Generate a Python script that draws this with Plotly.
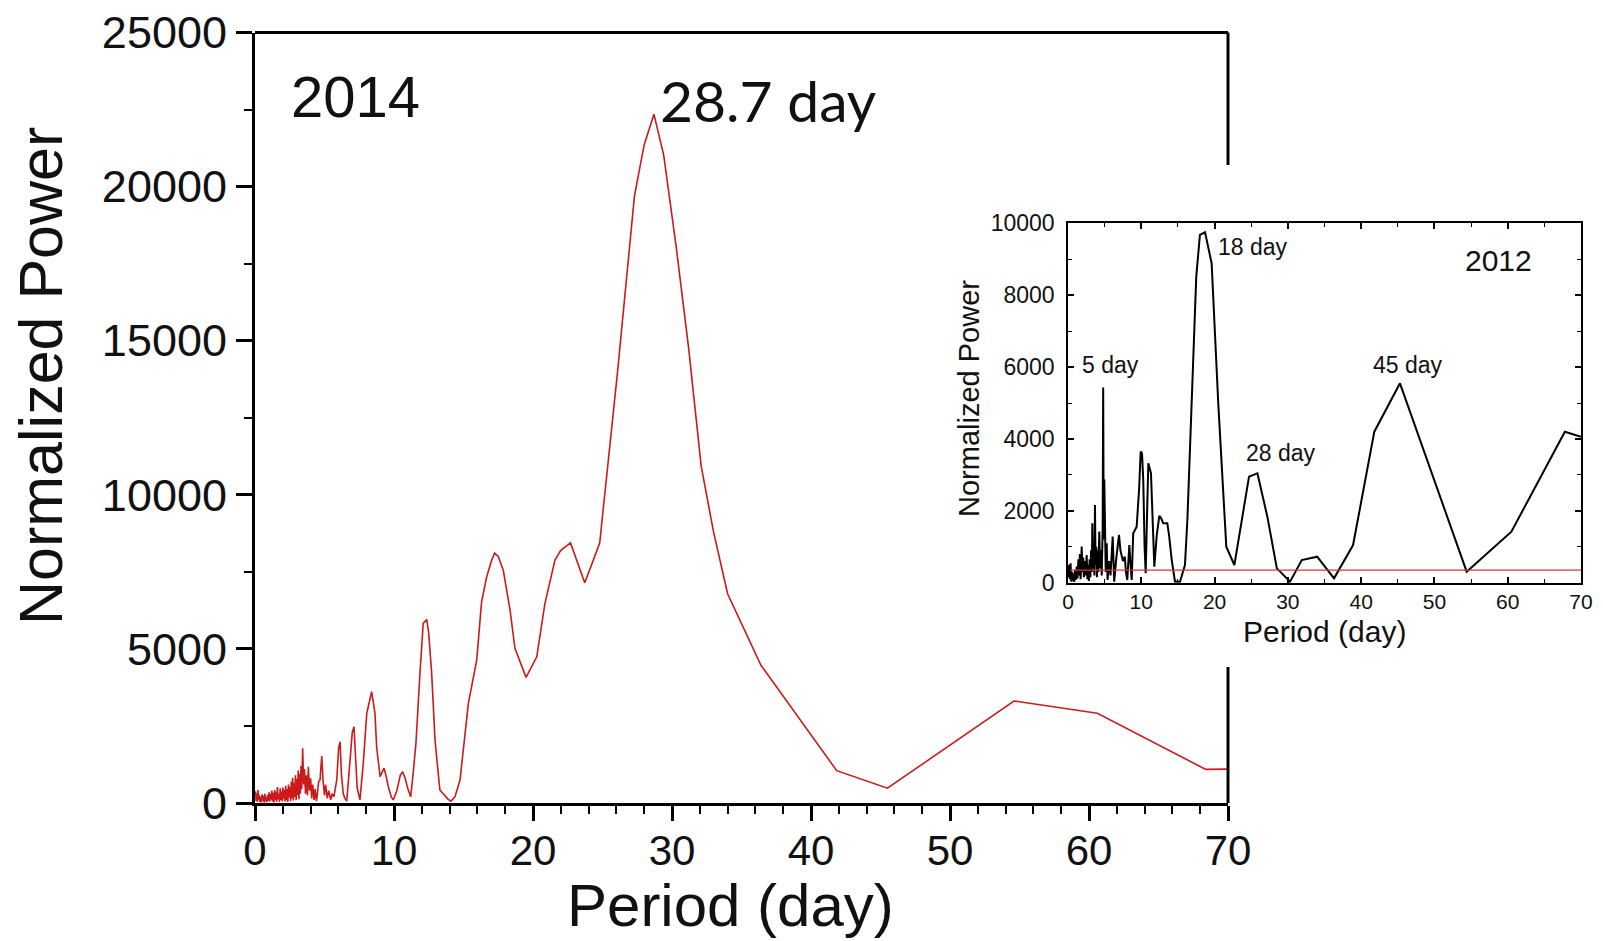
import plotly.graph_objects as go

W, H = 1603, 941

# ---------------- 2014 (main, red) ----------------
period_2014 = [0.04, 0.08, 0.12, 0.17, 0.22, 0.27, 0.31, 0.36, 0.41, 0.46, 0.51, 0.56, 0.61, 0.66,
               0.71, 0.76, 0.81, 0.86, 0.91, 0.96, 1.01, 1.06, 1.11, 1.16, 1.21, 1.26, 1.31, 1.36,
               1.41, 1.46, 1.51, 1.56, 1.61, 1.66, 1.71, 1.76, 1.81, 1.86, 1.91, 1.96, 2.01, 2.06,
               2.11, 2.16, 2.21, 2.26, 2.31, 2.36, 2.41, 2.46, 2.51, 2.56, 2.61, 2.66, 2.71, 2.76,
               2.81, 2.86, 2.91, 2.96, 3.01, 3.06, 3.11, 3.16, 3.21, 3.26, 3.31, 3.36, 3.43, 3.50,
               3.56, 3.63, 3.70, 3.77, 3.84, 3.92, 4.00, 4.08, 4.15, 4.25, 4.33, 4.42, 4.48, 4.58,
               4.68, 4.80, 4.90, 5.00, 5.08, 5.20, 5.30, 5.45, 5.55, 5.68, 5.88, 6.02, 6.12, 6.22,
               6.35, 6.47, 6.60, 6.83, 7.00, 7.12, 7.22, 7.35, 7.55, 7.79, 8.04, 8.25, 8.39, 8.50,
               8.63, 8.75, 9.00, 9.14, 9.28, 9.42, 9.59, 9.80, 9.95, 10.2, 10.45, 10.62, 10.8, 11.0,
               11.2, 11.39, 11.58, 11.87, 12.1, 12.35, 12.5, 12.71, 12.95, 13.3, 13.9, 14.1, 14.39,
               14.75, 15.35, 15.95, 16.3, 16.67, 17.03, 17.24, 17.5, 17.86, 18.35, 18.7, 19.5,
               20.27, 20.86, 21.58, 22.0, 22.7, 23.72, 24.34, 24.8, 26.1, 27.3, 28.0, 28.7, 29.4,
               30.3, 31.2, 32.1, 33.0, 34.0, 36.4, 41.85, 45.5, 54.6, 60.6, 68.4, 70.0]
power_2014 = [380, 60, 310, 40, 420, 90, 250, 30, 200, 20, 280, 70, 230, 10,
              300, 60, 180, 30, 260, 80, 350, 40, 290, 110, 400, 50, 330, 20,
              420, 90, 360, 40, 520, 120, 300, 30, 480, 100, 380, 60, 500, 140,
              420, 50, 560, 90, 450, 30, 600, 180, 520, 60, 700, 150, 820, 80,
              650, 200, 900, 100, 780, 250, 1050, 120, 950, 300, 1200, 450, 1774, 600,
              1100, 300, 900, 250, 1177, 400, 800, 150, 600, 100, 450, 60, 259, 700,
              746, 1524, 700, 250, 600, 150, 400, 100, 300, 204, 746, 1800, 1988, 900,
              300, 150, 60, 1287, 2300, 2475, 1600, 500, 100, 1287, 2909, 3400, 3610, 3300,
              2909, 1826, 854, 1000, 1125, 900, 530, 200, 100, 400, 900, 1015, 800, 450,
              200, 1015, 1946, 4216, 5828, 5957, 5500, 4206, 2043, 422, 120, 60, 204,
              746, 3233, 4637, 6528, 7339, 7880, 8110, 8000, 7556, 6259, 5017, 4076,
              4744, 6476, 7880, 8200, 8440, 7144, 7880, 8440, 14070, 19700, 21360, 22350, 21030,
              18050, 14750, 10930, 8770, 6790, 4470, 1048, 480, 3310, 2910, 1090, 1100]

# ---------------- 2012 (inset, black) ----------------
period_2012 = [0.05, 0.15, 0.25, 0.35, 0.45, 0.55, 0.65, 0.75, 0.85, 0.95, 1.05, 1.19, 1.30, 1.42,
               1.52, 1.62, 1.72, 1.87, 1.97, 2.07, 2.17, 2.30, 2.42, 2.55, 2.65, 2.75, 2.85, 2.95,
               3.05, 3.15, 3.25, 3.32, 3.42, 3.52, 3.60, 3.68, 3.76, 3.86, 3.95, 4.05, 4.15, 4.27,
               4.37, 4.50, 4.60, 4.73, 4.80, 4.87, 4.95, 5.05, 5.15, 5.28, 5.40, 5.60, 5.80, 6.10,
               6.30, 6.60, 6.96, 7.15, 7.32, 7.50, 7.75, 7.90, 8.09, 8.25, 8.37, 8.50, 8.69, 8.90,
               9.37, 9.70, 9.92, 10.1, 10.27, 10.45, 10.6, 10.8, 10.96, 11.32, 11.78, 12.1, 12.46,
               12.7, 13.0, 13.55, 13.8, 14.15, 14.6, 15.28, 15.96, 16.3, 16.87, 17.5, 18.0, 18.7,
               19.6, 20.5, 21.6, 22.7, 24.7, 25.85, 27.2, 28.5, 30.3, 31.9, 34.0, 36.3, 38.9, 41.8,
               45.3, 54.4, 60.5, 67.8, 70.0]
power_2012 = [150, 500, 100, 540, 30, 300, 60, 250, 20, 350, 80, 446, 120, 650,
              200, 800, 100, 1003, 300, 700, 150, 600, 200, 771, 100, 500, 50, 650,
              150, 900, 300, 1655, 400, 800, 200, 2165, 500, 1000, 150, 900, 300, 1422,
              400, 900, 200, 1500, 5430, 1200, 2870, 800, 300, 1097, 80, 600, 200, 1282,
              30, 700, 1329, 900, 725, 600, 725, 300, 75, 700, 1050, 600, 75, 1376,
              1560, 2600, 3649, 3600, 2860, 1000, 262, 2000, 3326, 3047, 446, 1300, 1858,
              1800, 1655, 1655, 1300, 632, 28, 28, 493, 1800, 5089, 8515, 9675, 9749,
              8887, 5000, 1000, 492, 2950, 3043, 1837, 399, 28, 631, 724, 121, 1048, 4202,
              5547, 306, 1419, 4202, 4063]

threshold_period = [0.3, 70.0]
threshold_power = [350, 350]

x_ticks = [0, 10, 20, 30, 40, 50, 60, 70]
y_ticks_main = [0, 5000, 10000, 15000, 20000, 25000]
y_ticks_inset = [0, 2000, 4000, 6000, 8000, 10000]

FONT = "Liberation Sans"

fig = go.Figure()
fig.add_trace(go.Scatter(x=period_2014, y=power_2014, mode="lines",
                         line=dict(color="#cc1a1a", width=1.6), xaxis="x", yaxis="y",
                         showlegend=False, hoverinfo="skip"))
fig.add_trace(go.Scatter(x=period_2012, y=power_2012, mode="lines",
                         line=dict(color="#000000", width=2), xaxis="x2", yaxis="y2",
                         showlegend=False, hoverinfo="skip"))
fig.add_trace(go.Scatter(x=threshold_period, y=threshold_power, mode="lines",
                         line=dict(color="#d03a3a", width=1.3), xaxis="x2", yaxis="y2",
                         showlegend=False, hoverinfo="skip"))

def px(x):
    return x / W

def py(y):
    return 1 - y / H

main_x_dom = [px(255), px(1228)]
main_y_dom = [py(803), py(32.5)]
ins_x_dom = [px(1068), px(1581)]
ins_y_dom = [py(582.7), py(223.3)]

fig.update_layout(
    width=W, height=H, autosize=False,
    margin=dict(l=0, r=0, t=0, b=0, pad=0, autoexpand=False),
    paper_bgcolor="white", plot_bgcolor="rgba(0,0,0,0)",
    showlegend=False,
    xaxis=dict(domain=main_x_dom, anchor="y", range=[0, 70], tickvals=x_ticks, automargin=False,
               ticks="outside", ticklen=15, tickwidth=3, tickcolor="black", ticklabelstandoff=-6,
               showline=True, linewidth=3, linecolor="black",
               minor=dict(dtick=2, tick0=0, ticks="outside", ticklen=8, tickwidth=2, tickcolor="black"),
               showgrid=False, zeroline=False,
               tickfont=dict(family=FONT, size=42, color="#111")),
    yaxis=dict(domain=main_y_dom, anchor="x", range=[0, 25000], tickvals=y_ticks_main, automargin=False,
               tickformat="d",
               ticks="outside", ticklen=16, tickwidth=3, tickcolor="black",
               showline=True, linewidth=3, linecolor="black",
               minor=dict(dtick=2500, tick0=0, ticks="outside", ticklen=8, tickwidth=2, tickcolor="black"),
               showgrid=False, zeroline=False,
               tickfont=dict(family=FONT, size=45, color="#111")),
    xaxis2=dict(domain=ins_x_dom, anchor="y2", range=[0, 70], tickvals=x_ticks, automargin=False,
                ticks="inside", ticklen=6, tickwidth=1.5, tickcolor="black", ticklabelstandoff=-1,
                showline=True, linewidth=1.6, linecolor="black", mirror="ticks",
                minor=dict(dtick=5, tick0=0, ticks="inside", ticklen=4, tickwidth=1.2, tickcolor="black"),
                showgrid=False, zeroline=False,
                tickfont=dict(family=FONT, size=21, color="#111")),
    yaxis2=dict(domain=ins_y_dom, anchor="x2", range=[0, 10000], tickvals=y_ticks_inset, automargin=False,
                tickformat="d", ticklabelstandoff=7,
                ticks="inside", ticklen=6, tickwidth=1.5, tickcolor="black",
                showline=True, linewidth=1.6, linecolor="black", mirror="ticks",
                minor=dict(dtick=1000, tick0=0, ticks="inside", ticklen=4, tickwidth=1.2, tickcolor="black"),
                showgrid=False, zeroline=False,
                tickfont=dict(family=FONT, size=23, color="#111")),
)

# Main frame: top border and broken right border (inset overlaps it)
shapes = [
    dict(type="line", xref="x domain", yref="y domain", x0=0, x1=1, y0=1, y1=1,
         line=dict(color="black", width=3)),
    dict(type="line", xref="x domain", yref="y domain", x0=1, x1=1, y0=0, y1=(803 - 667) / 770.5,
         line=dict(color="black", width=3)),
    dict(type="line", xref="x domain", yref="y domain", x0=1, x1=1, y0=(803 - 165) / 770.5, y1=1,
         line=dict(color="black", width=3)),
]
fig.update_layout(shapes=shapes)

def ann(text, x, y, size, family=FONT, angle=0, xanchor="center", yanchor="middle"):
    return dict(text=text, x=px(x), y=py(y), xref="paper", yref="paper", showarrow=False,
                font=dict(family=family, size=size, color="#111"), textangle=angle,
                xanchor=xanchor, yanchor=yanchor)

annotations = [
    ann("Normalized Power", 41, 376, 61, angle=-90),
    ann("Period (day)", 730, 905, 60),
    ann("2014", 355, 97, 58),
    ann("28.7 day", 658, 100, 57, family="Lato", xanchor="left"),
    ann("Normalized Power", 969, 398, 29, angle=-90),
    ann("Period (day)", 1324, 631, 30),
    ann("2012", 1498, 260, 30),
    ann("18 day", 1253, 247, 23),
    ann("5 day", 1110, 365, 23),
    ann("28 day", 1281, 453, 23),
    ann("45 day", 1408, 365, 23),
]
fig.update_layout(annotations=annotations)

fig.write_html("out.html")
